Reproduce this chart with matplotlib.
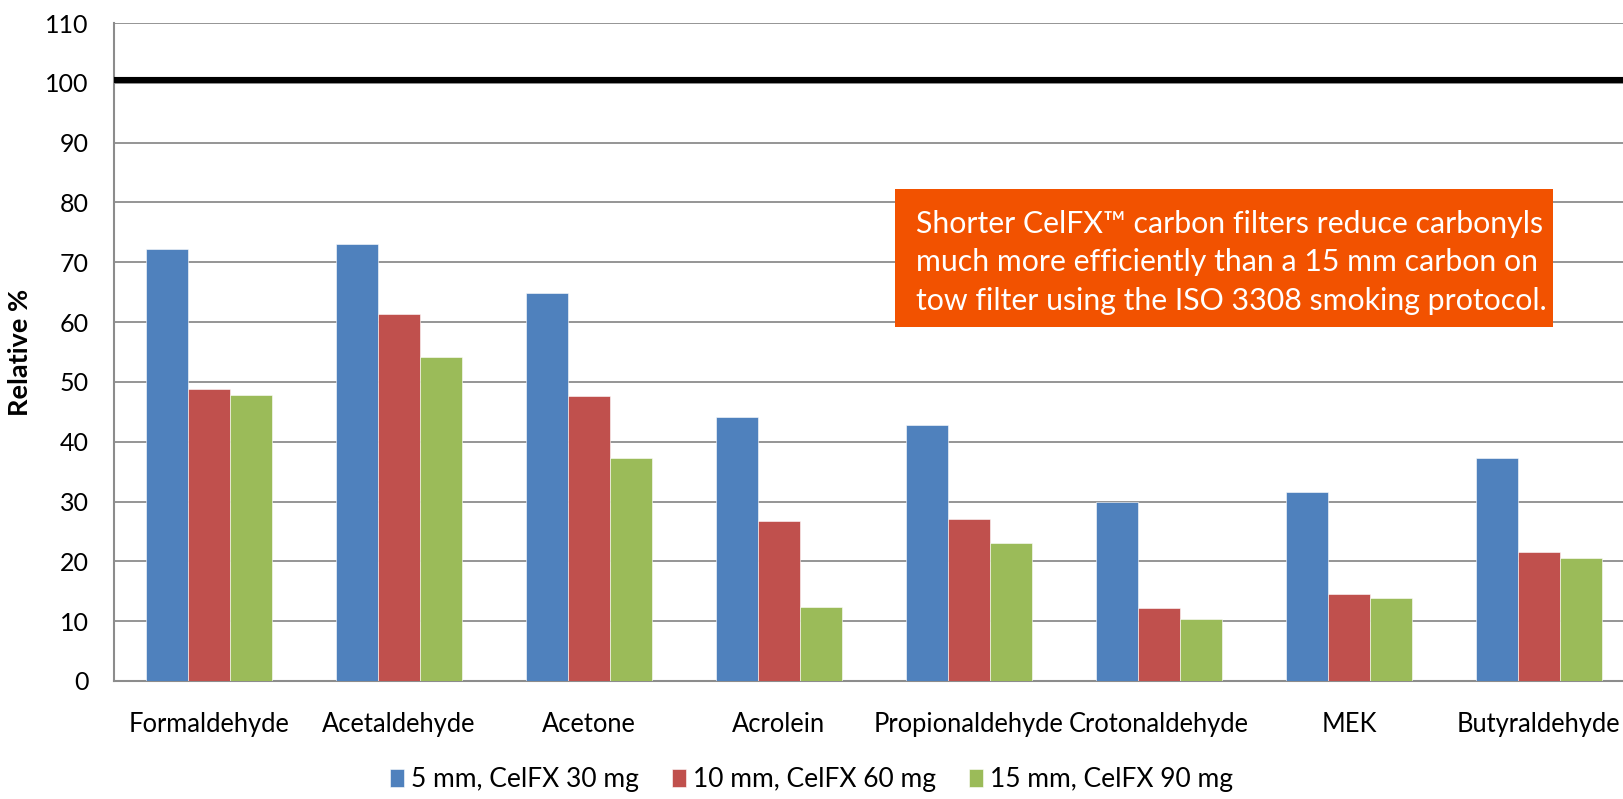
import matplotlib.pyplot as plt
from matplotlib.patches import Rectangle
import numpy as np

plt.rcParams['font.family'] = ['Lato', 'DejaVu Sans']

# data
categories = ['Formaldehyde', 'Acetaldehyde', 'Acetone', 'Acrolein',
              'Propionaldehyde', 'Crotonaldehyde', 'MEK', 'Butyraldehyde']
series_names = ['5 mm, CelFX 30 mg', '10 mm, CelFX 60 mg', '15 mm, CelFX 90 mg']
filter_5mm = [72.2, 73.1, 64.9, 44.1, 42.8, 30.0, 31.6, 37.2]
filter_10mm = [48.8, 61.4, 47.7, 26.8, 27.0, 12.2, 14.5, 21.5]
filter_15mm = [47.8, 54.2, 37.2, 12.3, 23.0, 10.4, 13.8, 20.6]
reference_level = 100.5
note = ("Shorter CelFX\u2122 carbon filters reduce carbonyls\n"
        "much more efficiently than a 15 mm carbon on\n"
        "tow filter using the ISO 3308 smoking protocol.")

colors = ['#4f81bd', '#c0504d', '#9bbb59']

fig = plt.figure(figsize=(16.23, 7.99), dpi=100)
# axes runs a bit past the right edge, like the cropped original
ax = fig.add_axes([0.0702, 0.1477, 0.9365, 0.8235])

x = np.arange(len(categories))
w = 0.221
for i, (vals, name) in enumerate(zip([filter_5mm, filter_10mm, filter_15mm], series_names)):
    ax.bar(x + (i - 1) * w, vals, w, color=colors[i], label=name, zorder=3,
           edgecolor='white', linewidth=0.4)

ax.axhline(reference_level, color='black', lw=4.4, zorder=4)

ax.set_xlim(-0.5, len(categories) - 0.5)
ax.set_ylim(0, 110)
ax.set_yticks(range(0, 111, 10))
ax.set_xticks(x)
ax.set_xticklabels(categories, fontsize=18.4)
ax.tick_params(axis='y', labelsize=18, length=0, pad=18)
ax.tick_params(axis='x', length=0, pad=22)
ax.grid(axis='y', color='#8c8c8c', lw=1.3, zorder=0)
for s in ['top', 'right']:
    ax.spines[s].set_visible(False)
for s in ['left', 'bottom']:
    ax.spines[s].set_color('#8c8c8c')
    ax.spines[s].set_linewidth(1.5)
ax.set_ylabel('Relative %', fontsize=19.5, fontweight='bold')
ax.yaxis.set_label_coords(-0.054, 0.5)

# orange call-out box
ax.add_patch(Rectangle((0.514, 59.2), 0.433, 23.1, transform=ax.get_yaxis_transform(),
                       facecolor='#f25200', edgecolor='none', zorder=5))
ax.text(0.528, 70.0, note, transform=ax.get_yaxis_transform(), color='white',
        fontsize=21.8, va='center', ha='left', linespacing=1.45, zorder=6)

fig.legend(loc='center', bbox_to_anchor=(0.5, 0.024), ncol=3, frameon=False,
           fontsize=19, handlelength=0.55, handleheight=0.65, handletextpad=0.25,
           columnspacing=1.25)

fig.savefig('out.png', dpi=100)
